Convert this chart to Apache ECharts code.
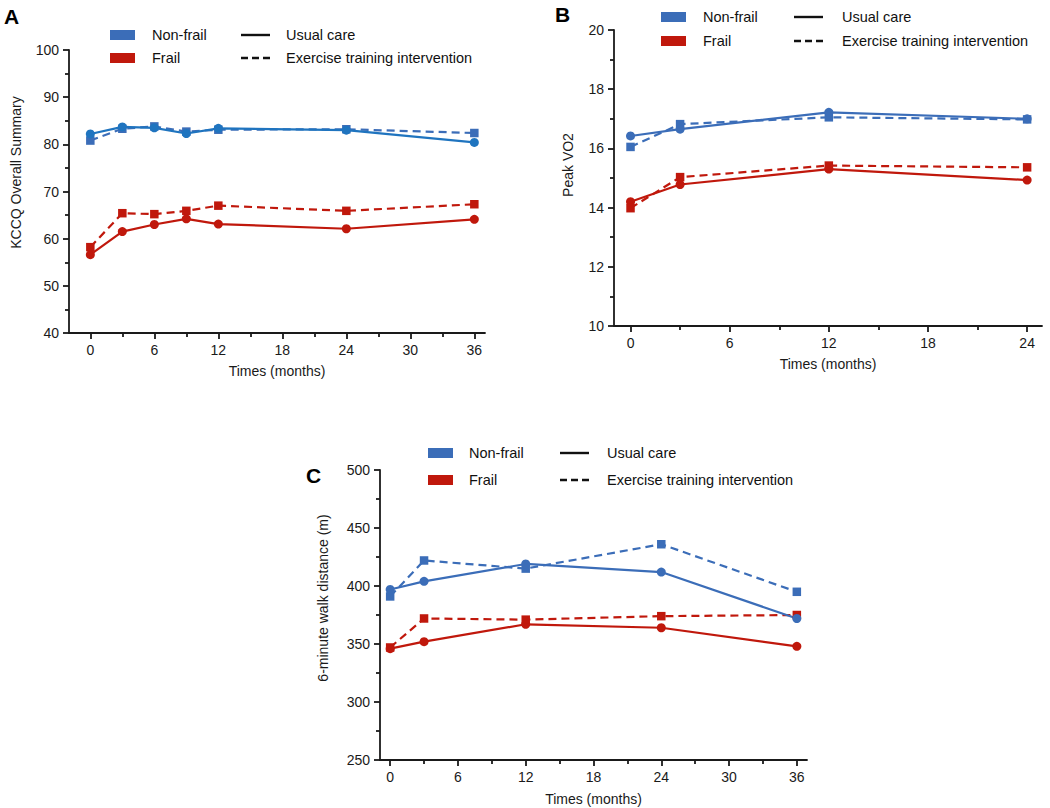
<!DOCTYPE html>
<html>
<head>
<meta charset="utf-8">
<script src="https://cdn.jsdelivr.net/npm/echarts@6/dist/echarts.min.js"></script>
<style>
html,body{margin:0;padding:0;background:#fff;}
#chart{width:1050px;height:808px;}
</style>
</head>
<body>
<div id="chart"></div>
<script>
// ---------- DATA ----------
const groupLabels = ['Non-frail', 'Frail'];
const careLabels = ['Usual care', 'Exercise training intervention'];
const xTitle = 'Times (months)';

// Panel A: KCCQ Overall Summary
const monthsA = [0, 3, 6, 9, 12, 24, 36];
const kccqNonFrailUsual = [82.2, 83.7, 83.5, 82.3, 83.4, 83.0, 80.4];
const kccqNonFrailExercise = [80.8, 83.3, 83.8, 82.7, 83.1, 83.2, 82.4];
const kccqFrailUsual = [56.6, 61.5, 63.0, 64.2, 63.1, 62.1, 64.1];
const kccqFrailExercise = [58.2, 65.4, 65.2, 65.9, 67.0, 65.9, 67.3];
const xTicksA = [0, 6, 12, 18, 24, 30, 36];
const xMinorA = [3, 9, 15, 21, 27, 33];

// Panel B: Peak VO2
const monthsB = [0, 3, 12, 24];
const vo2NonFrailUsual = [16.42, 16.65, 17.22, 17.00];
const vo2NonFrailExercise = [16.05, 16.82, 17.05, 16.98];
const vo2FrailUsual = [14.20, 14.78, 15.30, 14.93];
const vo2FrailExercise = [13.98, 15.03, 15.42, 15.36];
const xTicksB = [0, 6, 12, 18, 24];
const xMinorB = [3, 9, 15, 21];

// Panel C: 6-minute walk distance
const monthsC = [0, 3, 12, 24, 36];
const walkNonFrailUsual = [397, 404, 419, 412, 372];
const walkNonFrailExercise = [391, 422, 415, 436, 395];
const walkFrailUsual = [346, 352, 367, 364, 348];
const walkFrailExercise = [347, 372, 371, 374, 375];
const xTicksC = [0, 6, 12, 18, 24, 30, 36];
const xMinorC = [3, 9, 15, 21, 27, 33];

// ---------- STYLE ----------
const FONT = '"Liberation Sans", Arial, sans-serif';
const BLUE = '#3b6db8';
const BLUE_A = '#1f74bf';
const RED = '#c0180c';
const AX = '#1a1a1a';

const panels = [
  { label: 'A', labelPos: [4, 6], grid: { left: 69, top: 50, width: 416, height: 283 },
    xmin: -2, xmax: 37, ticks: xTicksA, minor: xMinorA,
    ymin: 40, ymax: 100, yint: 10, yTitle: 'KCCQ Overall Summary', yGap: 46, yShift: 38, xGap: 31,
    months: monthsA, series: [kccqNonFrailUsual, kccqNonFrailExercise, kccqFrailUsual, kccqFrailExercise],
    blueUsual: BLUE_A,
    legend: { rx: 110, tx: 152, lx: 241, ltx: 286, y1: 35, y2: 58 } },
  { label: 'B', labelPos: [555, 4], grid: { left: 614, top: 30, width: 428, height: 296 },
    xmin: -1, xmax: 24.9, ticks: xTicksB, minor: xMinorB,
    ymin: 10, ymax: 20, yint: 2, yTitle: 'Peak VO2', yGap: 39, yShift: 26, xGap: 31,
    months: monthsB, series: [vo2NonFrailUsual, vo2NonFrailExercise, vo2FrailUsual, vo2FrailExercise],
    blueUsual: BLUE,
    legend: { rx: 661, tx: 703, lx: 794, ltx: 842, y1: 17, y2: 41 } },
  { label: 'C', labelPos: [306, 465], grid: { left: 380, top: 470, width: 427, height: 290 },
    xmin: -0.9, xmax: 36.9, ticks: xTicksC, minor: xMinorC,
    ymin: 250, ymax: 500, yint: 50, yTitle: '6-minute walk distance (m)', yGap: 50, yShift: 34, xGap: 32,
    months: monthsC, series: [walkNonFrailUsual, walkNonFrailExercise, walkFrailUsual, walkFrailExercise],
    blueUsual: BLUE,
    legend: { rx: 428, tx: 469, lx: 560, ltx: 607, y1: 453, y2: 480 } }
];

const grids = [], xAxes = [], yAxes = [], series = [], graphics = [];
const tickStyle = { color: AX, width: 1.8 };

panels.forEach((p, i) => {
  grids.push(Object.assign({}, p.grid));
  // major x axis
  xAxes.push({
    type: 'value', gridIndex: i, min: p.xmin, max: p.xmax, position: 'bottom',
    axisLine: { show: true, onZero: false, lineStyle: { color: AX, width: 1.8 } },
    axisTick: { show: true, length: 6, customValues: p.ticks, lineStyle: tickStyle },
    axisLabel: { show: true, customValues: p.ticks, margin: 10, fontSize: 14, color: AX, fontFamily: FONT },
    splitLine: { show: false },
    name: xTitle, nameLocation: 'middle', nameGap: p.xGap,
    nameTextStyle: { fontSize: 14, color: AX, fontFamily: FONT }
  });
  // minor x ticks
  xAxes.push({
    type: 'value', gridIndex: i, min: p.xmin, max: p.xmax, position: 'bottom',
    axisLine: { show: false, onZero: false },
    axisTick: { show: true, length: 4, customValues: p.minor, lineStyle: tickStyle },
    axisLabel: { show: false },
    splitLine: { show: false }
  });
  yAxes.push({
    type: 'value', gridIndex: i, min: p.ymin, max: p.ymax, interval: p.yint,
    axisLine: { show: true, onZero: false, lineStyle: { color: AX, width: 1.8 } },
    axisTick: { show: true, length: 6, lineStyle: tickStyle },
    minorTick: { show: true, splitNumber: 2, length: 4, lineStyle: tickStyle },
    axisLabel: { margin: 10, fontSize: 14, color: AX, fontFamily: FONT },
    splitLine: { show: false }, minorSplitLine: { show: false },
    name: p.yTitle, nameLocation: 'middle', nameGap: p.yGap,
    nameTextStyle: { fontSize: 14, color: AX, fontFamily: FONT, padding: [0, 0, 0, p.yShift] }
  });

  const defs = [
    { data: p.series[2], color: RED, dash: 'solid', sym: 'circle', nm: 'Frail / Usual care' },
    { data: p.series[3], color: RED, dash: [8, 5], sym: 'rect', nm: 'Frail / Exercise' },
    { data: p.series[1], color: BLUE, dash: [8, 5], sym: 'rect', nm: 'Non-frail / Exercise' },
    { data: p.series[0], color: p.blueUsual, dash: 'solid', sym: 'circle', nm: 'Non-frail / Usual care' }
  ];
  defs.forEach(d => {
    series.push({
      type: 'line', name: p.label + ' ' + d.nm, xAxisIndex: i * 2, yAxisIndex: i,
      data: p.months.map((m, k) => [m, d.data[k]]),
      symbol: d.sym, symbolSize: d.sym === 'rect' ? 8.5 : 9,
      showSymbol: true, animation: false,
      lineStyle: { color: d.color, width: 2.2, type: d.dash },
      itemStyle: { color: d.color },
      emphasis: { disabled: true }
    });
  });

  // panel letter
  graphics.push({ type: 'text', left: p.labelPos[0], top: p.labelPos[1],
    style: { text: p.label, font: 'bold 21px ' + FONT, fill: '#000' } });

  // legend
  const L = p.legend;
  [[BLUE, L.y1, groupLabels[0]], [RED, L.y2, groupLabels[1]]].forEach(([c, y, t]) => {
    graphics.push({ type: 'rect', shape: { x: L.rx, y: y - 5, width: 25, height: 10 }, style: { fill: c } });
    graphics.push({ type: 'text', x: L.tx, y: y, style: { text: t, font: '14.5px ' + FONT, fill: '#111', textVerticalAlign: 'middle' } });
  });
  graphics.push({ type: 'line', shape: { x1: L.lx, y1: L.y1, x2: L.lx + 29, y2: L.y1 }, style: { stroke: '#111', lineWidth: 2.4 } });
  graphics.push({ type: 'line', shape: { x1: L.lx, y1: L.y2, x2: L.lx + 29, y2: L.y2 }, style: { stroke: '#111', lineWidth: 2.4, lineDash: [7, 4] } });
  graphics.push({ type: 'text', x: L.ltx, y: L.y1, style: { text: careLabels[0], font: '14.5px ' + FONT, fill: '#111', textVerticalAlign: 'middle' } });
  graphics.push({ type: 'text', x: L.ltx, y: L.y2, style: { text: careLabels[1], font: '14.5px ' + FONT, fill: '#111', textVerticalAlign: 'middle' } });
});

const chart = echarts.init(document.getElementById('chart'), null, { renderer: 'svg' });
chart.setOption({
  backgroundColor: '#fff',
  animation: false,
  grid: grids, xAxis: xAxes, yAxis: yAxes, series: series,
  graphic: graphics
});
</script>
</body>
</html>
